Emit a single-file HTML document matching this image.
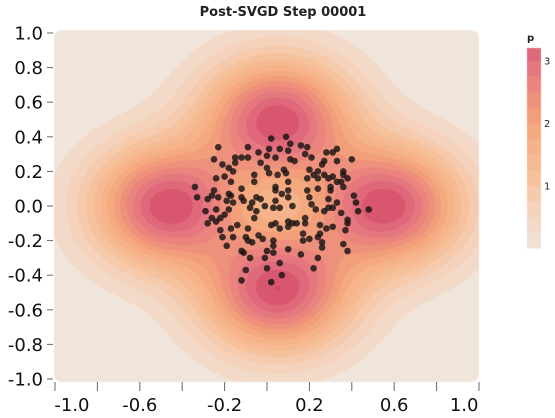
<!DOCTYPE html>
<html><head><meta charset="utf-8"><style>
html,body{margin:0;padding:0;background:#fff;width:555px;height:418px;overflow:hidden}
#wrap{position:relative;width:555px;height:418px}
canvas{position:absolute;left:0;top:0}
svg{position:absolute;left:0;top:0}
text{font-family:"DejaVu Sans","Liberation Sans",sans-serif}
</style></head><body>
<div id="wrap">
<canvas id="field" width="555" height="418"></canvas>
<svg id="svg" width="555" height="418"></svg>
</div>
<script>
const particlesX=[-0.23,-0.09,-0.04,0.02,0.06,0.01,0.04,0.00,-0.25,-0.15,-0.12,-0.09,-0.21,-0.18,-0.15,-0.16,-0.03,0.00,0.01,0.05,0.08,-0.06,-0.06,-0.24,-0.20,-0.17,0.04,-0.34,-0.25,-0.12,-0.18,-0.17,-0.33,-0.26,-0.23,-0.12,-0.05,0.04,0.07,-0.28,-0.19,-0.16,-0.11,-0.07,-0.03,0.04,-0.08,-0.01,-0.24,-0.18,-0.05,0.03,-0.29,-0.20,-0.26,-0.22,-0.28,-0.24,-0.06,-0.14,-0.17,0.02,0.06,0.04,-0.09,-0.22,-0.21,-0.16,-0.10,-0.04,-0.09,-0.07,-0.02,0.03,0.03,-0.19,-0.12,-0.11,0.00,0.03,-0.08,-0.01,0.06,0.00,-0.10,0.07,-0.12,0.02,
0.09,0.11,0.16,0.19,0.10,0.18,0.21,0.28,0.31,0.33,0.11,0.13,0.27,0.33,0.40,0.26,0.09,0.20,0.22,0.24,0.27,0.36,0.36,0.38,0.19,0.24,0.29,0.31,0.33,0.35,0.10,0.30,0.36,0.10,0.19,0.24,0.30,0.10,0.20,0.29,0.41,0.21,0.33,0.42,0.12,0.06,0.23,0.27,0.29,0.31,0.43,0.48,0.35,0.18,0.10,0.12,0.14,0.18,0.25,0.38,0.38,0.28,0.31,0.37,0.10,0.17,0.24,0.25,0.17,0.20,0.26,0.26,0.36,0.10,0.16,0.38,0.24,0.22];
const particlesY=[0.34,0.34,0.31,0.39,0.33,0.33,0.28,0.29,0.27,0.28,0.28,0.28,0.24,0.22,0.25,0.20,0.25,0.22,0.19,0.18,0.21,0.18,0.14,0.16,0.17,0.14,0.11,0.11,0.09,0.10,0.07,0.06,0.05,0.06,0.05,0.05,0.05,0.09,0.07,0.04,0.03,0.02,0.03,0.02,0.04,0.03,-0.01,0.00,-0.02,-0.02,-0.03,-0.01,-0.03,-0.05,-0.07,-0.07,-0.10,-0.09,-0.07,-0.11,-0.13,-0.11,-0.13,-0.10,-0.13,-0.14,-0.18,-0.18,-0.18,-0.17,-0.20,-0.21,-0.19,-0.20,-0.23,-0.23,-0.26,-0.27,-0.26,-0.27,-0.30,-0.30,-0.33,-0.36,-0.37,-0.40,-0.43,-0.44,
0.40,0.36,0.35,0.34,0.32,0.30,0.28,0.31,0.31,0.33,0.27,0.26,0.26,0.26,0.27,0.24,0.19,0.21,0.18,0.20,0.18,0.20,0.18,0.16,0.16,0.16,0.16,0.17,0.14,0.14,0.14,0.11,0.11,0.09,0.09,0.10,0.09,0.05,0.05,0.04,0.06,0.01,0.02,0.02,0.00,-0.01,-0.02,-0.03,-0.01,-0.01,-0.03,-0.02,-0.04,-0.07,-0.09,-0.10,-0.10,-0.10,-0.11,-0.08,-0.10,-0.13,-0.12,-0.14,-0.12,-0.16,-0.18,-0.16,-0.20,-0.19,-0.21,-0.24,-0.22,-0.25,-0.28,-0.26,-0.30,-0.36];
const modeX=[-0.47,0.57,0.05,0.05];
const modeY=[0.0,0.0,0.5,-0.49];
const modeAmp=[3.4,3.4,3.4,3.4];
const modeSigma=[0.245,0.245,0.245,0.245];
const xTicks=[-1.0,-0.8,-0.6,-0.4,-0.2,0.0,0.2,0.4,0.6,0.8,1.0];
const xLabelVals=[-0.92,-0.6,-0.2,0.2,0.6,0.93];
const xLabelText=["-1.0","-0.6","-0.2","0.2","0.6","1.0"];
const yTicks=[1.0,0.8,0.6,0.4,0.2,0.0,-0.2,-0.4,-0.6,-0.8,-1.0];
const yTickLabels=["1.0","0.8","0.6","0.4","0.2","0.0","-0.2","-0.4","-0.6","-0.8","-1.0"];
const cbTicks=[1,2,3];
const cbLevels=[0,0.25,0.5,0.75,1,1.25,1.5,1.75,2,2.25,2.5,2.75,3,3.25];

const sx=v=>267+v*212, sy=v=>206-v*173;
const ix=p=>(p-267)/212, iy=p=>(206-p)/173;
const stops=[[0,[240,229,219]],[0.5,[244,214,194]],[1,[246,198,164]],[1.5,[246,182,140]],[2,[244,164,122]],[2.5,[236,138,124]],[3,[226,114,128]],[3.5,[214,78,104]],[4,[200,60,96]]];
function col(v){v=Math.max(0,Math.min(4,v));for(let i=0;i<stops.length-1;i++){if(v<=stops[i+1][0]){const t=(v-stops[i][0])/(stops[i+1][0]-stops[i][0]);return stops[i][1].map((c,k)=>Math.round(c+(stops[i+1][1][k]-c)*t));}}return stops[stops.length-1][1];}
function dens(x,y){let s=0;for(let i=0;i<modeX.length;i++){const dx=x-modeX[i],dy=y-modeY[i];s+=modeAmp[i]*Math.exp(-(dx*dx+dy*dy)/(2*modeSigma[i]*modeSigma[i]));}return s;}
const cv=document.getElementById('field'),ctx=cv.getContext('2d');
const L=54,T=30,R=479,B=382;
const img=ctx.createImageData(R-L,B-T);
for(let py=T;py<B;py++)for(let px=L;px<R;px++){
  let v=dens(ix(px+0.5),iy(py+0.5));v=Math.floor(v*4)/4+0.125;if(v<0.2)v=0;
  const c=col(v),o=((py-T)*(R-L)+(px-L))*4;img.data[o]=c[0];img.data[o+1]=c[1];img.data[o+2]=c[2];img.data[o+3]=255;}
ctx.save();ctx.beginPath();ctx.roundRect?ctx.roundRect(L,T,R-L,B-T,8):ctx.rect(L,T,R-L,B-T);ctx.clip();
const tmp=document.createElement('canvas');tmp.width=R-L;tmp.height=B-T;tmp.getContext('2d').putImageData(img,0,0);ctx.drawImage(tmp,L,T);ctx.restore();
const cbTop=48,cbBot=248,cbMax=3.2,cbs=v=>cbBot-v*(cbBot-cbTop)/cbMax;
for(let i=0;i<cbLevels.length;i++){const lo=cbLevels[i],hi=Math.min(cbMax,lo+0.25);if(lo>=cbMax)break;const c=col(lo+0.125);ctx.fillStyle=`rgb(${c[0]},${c[1]},${c[2]})`;ctx.fillRect(527,cbs(hi),14,cbs(lo)-cbs(hi)+0.5);}

const NS='http://www.w3.org/2000/svg',svg=document.getElementById('svg');
function mk(tag,attrs,parent){const e=document.createElementNS(NS,tag);for(const k in attrs)e.setAttribute(k,attrs[k]);(parent||svg).appendChild(e);return e;}
const title=mk('text',{x:283,y:16,'text-anchor':'middle','font-size':13,'font-weight':'bold',fill:'#222'});title.textContent='Post-SVGD Step 00001';


const gx=mk('g',{});


xTicks.forEach(t=>{const l=mk('line',{x1:sx(t),x2:sx(t),y1:382,y2:391,stroke:'#666','stroke-width':1},gx);

});
xLabelVals.forEach((t,i)=>{const tx=mk('text',{x:sx(t),y:411,'text-anchor':'middle','font-size':18,fill:'#111'},gx);tx.textContent=xLabelText[i];

});
const gy=mk('g',{});


yTicks.forEach((t,i)=>{const l=mk('line',{x1:47,x2:53,y1:sy(t),y2:sy(t),stroke:'#666','stroke-width':1},gy);


const tx=mk('text',{x:43,y:sy(t)+6.5,'text-anchor':'end','font-size':18,fill:'#111'},gy);tx.textContent=yTickLabels[i];

});
const gp=mk('g',{});


for(let i=0;i<particlesX.length;i++){const c=mk('circle',{cx:sx(particlesX[i]),cy:sy(particlesY[i]),r:3.3,fill:'rgba(25,20,20,0.82)'},gp);

}
const gl=mk('g',{});


const pl=mk('text',{x:527,y:41,'font-size':10,'font-weight':'bold',fill:'#222'},gl);pl.textContent='p';


cbTicks.forEach(t=>{const tx=mk('text',{x:544,y:cbs(t)+4,'font-size':10,fill:'#222'},gl);tx.textContent=String(t);

});
</script>
</body></html>
